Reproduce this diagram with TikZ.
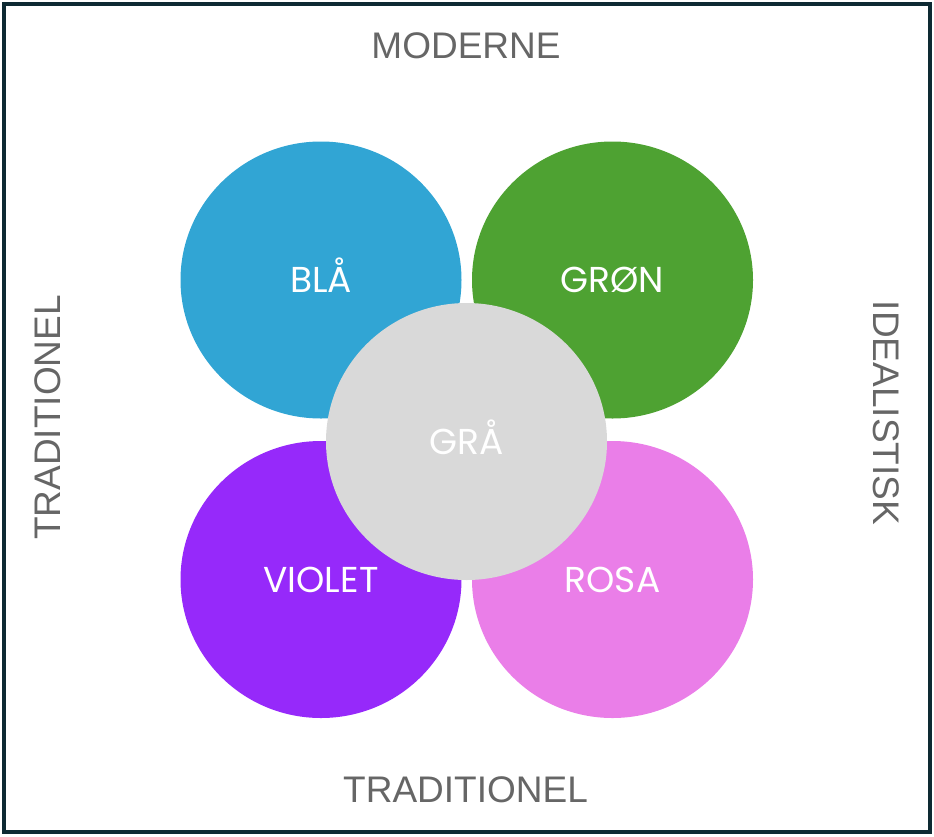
\documentclass[tikz,border=0pt]{standalone}
\usepackage{fontspec}
\setmainfont{Liberation Sans}
\newfontfamily\popfont{Poppins}
\usetikzlibrary{shapes.geometric}

\definecolor{ramme}{HTML}{0E2A33}
\definecolor{akse}{HTML}{666666}
\definecolor{blaa}{HTML}{31A5D4}
\definecolor{groen}{HTML}{4EA232}
\definecolor{violet}{HTML}{9629FA}
\definecolor{rosa}{HTML}{EA7EE8}
\definecolor{graa}{HTML}{D9D9D9}

\tikzset{
    petal/.style={ellipse, minimum width=281pt, minimum height=277pt, inner sep=0pt,
        text=white, font=\popfont\fontsize{36}{36}\selectfont,
        text height=25pt, text depth=0pt},
    akselabel/.style={text=akse, font=\fontsize{37}{37}\selectfont,
        text height=26.5pt, text depth=0pt, inner sep=0pt}
}

\begin{document}
\begin{tikzpicture}[x=1pt,y=-1pt]
    \useasboundingbox (0,0) rectangle (934,836);
    \draw[line width=4pt, ramme] (4,4) rectangle (930,832);

    % circles
    \foreach \n/\x/\y/\c/\t in {bla/321/280/blaa/BLÅ, gron/612.5/280/groen/GRØN,
        vio/321/579.5/violet/VIOLET, ros/612.5/579.5/rosa/ROSA}
        {\node[petal, fill=\c] (\n) at (\x,\y) {\t};}
    \node[petal, fill=graa] (gra) at (466.5,441.5) {GRÅ};

    % axes
    \node[akselabel] (moderne) at (466,45) {MODERNE};
    \node[akselabel] (trad) at (465.5,789) {TRADITIONEL};
    \node[akselabel, rotate=90] (tradv) at (47,417.5) {TRADITIONEL};
    \node[akselabel, rotate=-90] (ideal) at (886.5,413) {IDEALISTISK};
\end{tikzpicture}
\end{document}
